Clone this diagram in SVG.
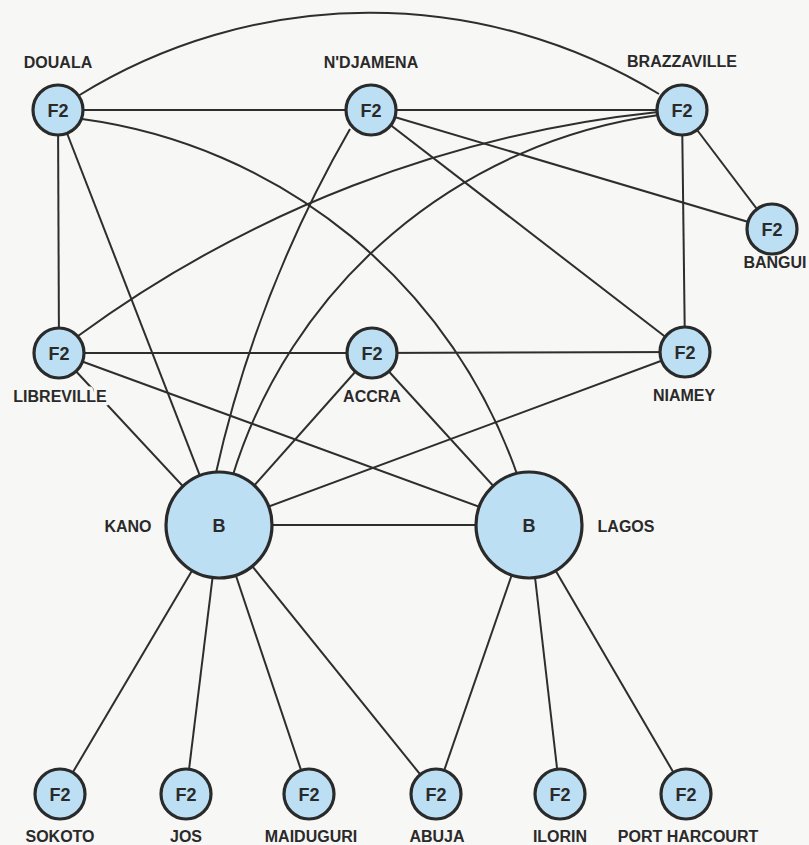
<svg xmlns="http://www.w3.org/2000/svg" width="809" height="845" viewBox="0 0 809 845">
<style>
.e{fill:none;stroke:#2e2e2e;stroke-width:2}
.n{fill:#bcdff3;stroke:#2a2a2a;stroke-width:3.2}
.t{font-family:"Liberation Sans",Arial,sans-serif;font-weight:bold;fill:#2a2a2a;text-anchor:middle}
.in{font-size:18px}
.lb{font-size:16px}
.mask{stroke:#f7f7f5;stroke-width:7;paint-order:stroke;stroke-linejoin:round}
</style>
<rect width="809" height="845" fill="#f7f7f5"/>
<g id="connectors">
<line class="e" x1="58" y1="110" x2="371" y2="110"/>
<line class="e" x1="371" y1="110" x2="682" y2="110"/>
<line class="e" x1="58" y1="110" x2="59" y2="353"/>
<line class="e" x1="58" y1="110" x2="219" y2="525"/>
<line class="e" x1="371" y1="110" x2="772" y2="229"/>
<line class="e" x1="371" y1="110" x2="685" y2="352"/>
<line class="e" x1="682" y1="110" x2="772" y2="229"/>
<line class="e" x1="682" y1="110" x2="685" y2="352"/>
<line class="e" x1="59" y1="353" x2="372" y2="353"/>
<line class="e" x1="372" y1="353" x2="685" y2="352"/>
<line class="e" x1="59" y1="353" x2="219" y2="525"/>
<line class="e" x1="59" y1="353" x2="529" y2="525"/>
<line class="e" x1="372" y1="353" x2="219" y2="525"/>
<line class="e" x1="372" y1="353" x2="529" y2="525"/>
<line class="e" x1="685" y1="352" x2="219" y2="525"/>
<line class="e" x1="219" y1="525" x2="529" y2="525"/>
<line class="e" x1="219" y1="525" x2="60" y2="794"/>
<line class="e" x1="219" y1="525" x2="186" y2="794"/>
<line class="e" x1="219" y1="525" x2="309" y2="794"/>
<line class="e" x1="219" y1="525" x2="436" y2="794"/>
<line class="e" x1="529" y1="525" x2="436" y2="794"/>
<line class="e" x1="529" y1="525" x2="560" y2="794"/>
<line class="e" x1="529" y1="525" x2="686" y2="794"/>
<path class="e" d="M78,96 A554,554 0 0 1 659,94"/>
<path class="e" d="M82,119 A537,537 0 0 1 518,477"/>
<path class="e" d="M350,129 A1230,1230 0 0 0 215,477"/>
<path class="e" d="M658,112 A1192,1192 0 0 0 78,336"/>
<path class="e" d="M659,115 A519,519 0 0 0 232,478"/>
</g>
<g id="douala"><circle class="n" cx="58" cy="110" r="25"/><text class="t in" x="58" y="116.5">F2</text><text class="t lb" x="58" y="68">DOUALA</text></g>
<g id="ndjamena"><circle class="n" cx="371" cy="110" r="25"/><text class="t in" x="371" y="116.5">F2</text><text class="t lb" x="371" y="68">N'DJAMENA</text></g>
<g id="brazzaville"><circle class="n" cx="682" cy="110" r="25"/><text class="t in" x="682" y="116.5">F2</text><text class="t lb" x="682" y="67">BRAZZAVILLE</text></g>
<g id="bangui"><circle class="n" cx="772" cy="229" r="25"/><text class="t in" x="772" y="235.5">F2</text><text class="t lb" x="775" y="268">BANGUI</text></g>
<g id="libreville"><circle class="n" cx="59" cy="353" r="25"/><text class="t in" x="59" y="359.5">F2</text><text class="t lb mask" x="60" y="402">LIBREVILLE</text></g>
<g id="accra"><circle class="n" cx="372" cy="353" r="25"/><text class="t in" x="372" y="359.5">F2</text><text class="t lb" x="372" y="402">ACCRA</text></g>
<g id="niamey"><circle class="n" cx="685" cy="352" r="25"/><text class="t in" x="685" y="358.5">F2</text><text class="t lb" x="684" y="401">NIAMEY</text></g>
<g id="kano"><circle class="n" cx="219" cy="525" r="53"/><text class="t in" x="219" y="531.5">B</text><text class="t lb" x="128" y="532">KANO</text></g>
<g id="lagos"><circle class="n" cx="529" cy="525" r="53"/><text class="t in" x="529" y="531.5">B</text><text class="t lb" x="626" y="532">LAGOS</text></g>
<g id="sokoto"><circle class="n" cx="60" cy="794" r="25"/><text class="t in" x="60" y="800.5">F2</text><text class="t lb" x="60" y="842">SOKOTO</text></g>
<g id="jos"><circle class="n" cx="186" cy="794" r="25"/><text class="t in" x="186" y="800.5">F2</text><text class="t lb" x="186" y="842">JOS</text></g>
<g id="maiduguri"><circle class="n" cx="309" cy="794" r="25"/><text class="t in" x="309" y="800.5">F2</text><text class="t lb" x="311" y="842">MAIDUGURI</text></g>
<g id="abuja"><circle class="n" cx="436" cy="794" r="25"/><text class="t in" x="436" y="800.5">F2</text><text class="t lb" x="437" y="842">ABUJA</text></g>
<g id="ilorin"><circle class="n" cx="560" cy="794" r="25"/><text class="t in" x="560" y="800.5">F2</text><text class="t lb" x="560" y="842">ILORIN</text></g>
<g id="portharcourt"><circle class="n" cx="686" cy="794" r="25"/><text class="t in" x="686" y="800.5">F2</text><text class="t lb" x="688" y="842">PORT HARCOURT</text></g>
</svg>
